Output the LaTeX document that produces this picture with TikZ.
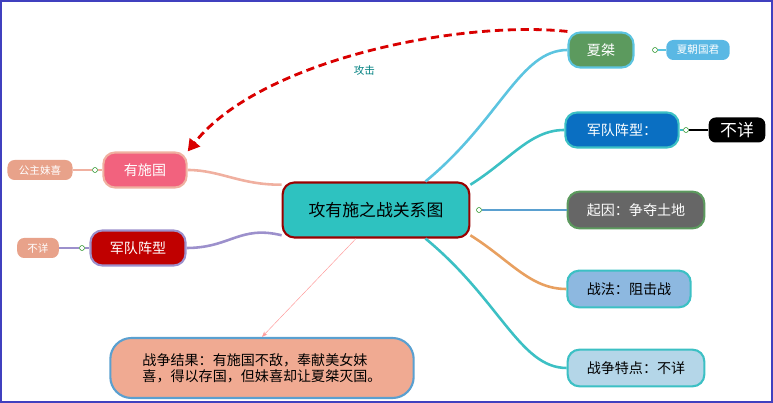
\documentclass[tikz,border=0pt]{standalone}
\usepackage{fontspec}
\setmainfont{Noto Sans CJK SC}
\usetikzlibrary{arrows.meta}
\definecolor{mainfill}{HTML}{2EC2C0}
\definecolor{xjfill}{HTML}{5C9A5E}
\definecolor{tagblue}{HTML}{5AB8E4}
\definecolor{jdfill}{HTML}{0A6FC2}
\definecolor{grayfill}{HTML}{666666}
\definecolor{zffill}{HTML}{8DB8E0}
\definecolor{tdfill}{HTML}{B4D6E8}
\definecolor{ysfill}{HTML}{F2627E}
\definecolor{salmon}{HTML}{E8A28A}
\definecolor{resfill}{HTML}{F0AA92}
\definecolor{darkred}{HTML}{C00000}
\definecolor{linecyan}{HTML}{5CC4E0}
\definecolor{lineteal}{HTML}{3CC0C4}
\definecolor{lineblue}{HTML}{5AA0D0}
\definecolor{lineorange}{HTML}{E8A060}
\definecolor{linepink}{HTML}{F0B0A0}
\definecolor{linepurple}{HTML}{9C90CC}
\tikzset{
  topic/.style={rectangle, rounded corners=10pt, line width=1.8pt, minimum height=1.05cm, text centered, font=\large},
  tag/.style={rectangle, rounded corners=6pt, minimum height=0.6cm, text centered, font=\small, text=white},
  knob/.style={circle, draw=green!50!black, fill=white, inner sep=1.5pt},
  branch/.style={line width=2.2pt}
}
\begin{document}
\begin{tikzpicture}[x=0.03cm, y=-0.03cm]
  \useasboundingbox (0,0) rectangle (773,403);
  \draw[blue!50!gray, line width=1.5pt] (1,1) rectangle (772,402);

  \node [topic, fill=mainfill, draw=red!60!black, minimum width=5.6cm, minimum height=1.65cm, font=\Large] at (376,210) (main) {攻有施之战关系图};
  \node [knob] at (479,210) (k0) {};

  \node [topic, fill=xjfill, draw=linecyan, text=white, minimum width=1.95cm] at (601,50) (xj) {夏桀};
  \node [knob] at (655,50) (k1) {};
  \node [tag, fill=tagblue, minimum width=1.9cm] at (698,50) (xjl) {夏朝国君};

  \node [topic, fill=jdfill, draw=lineteal, text=white, minimum width=3.4cm] at (622,130) (jd) {军队阵型：};
  \node [knob] at (686,130) (k2) {};
  \node [tag, fill=black, minimum width=1.7cm, minimum height=0.75cm, font=\Large] at (737,130) (jdl) {不详};

  \node [topic, fill=grayfill, draw=xjfill, text=white, minimum width=4.1cm, minimum height=1.1cm] at (636,210) (qy) {起因：争夺土地};
  \node [topic, fill=zffill, draw=lineteal, minimum width=3.7cm, minimum height=1.1cm] at (629,289) (zf) {战法：阻击战};
  \node [topic, fill=tdfill, draw=lineteal, minimum width=4.1cm, minimum height=1.1cm] at (636,368) (td) {战争特点：不详};

  \node [topic, fill=ysfill, draw=linepink, text=white, minimum width=2.5cm] at (145,170) (ys) {有施国};
  \node [knob] at (95,170) (k3) {};
  \node [tag, fill=salmon, minimum width=1.95cm] at (40,170) (ysl) {公主妹喜};

  \node [topic, fill=darkred, draw=linepurple, text=white, minimum width=2.85cm] at (138,248) (jd2) {军队阵型};
  \node [knob] at (82,248) (k4) {};
  \node [tag, fill=salmon, minimum width=1.25cm] at (38,248) (jd2l) {不详};

  \node [topic, fill=resfill, draw=lineblue, rounded corners=18pt, minimum width=9.1cm, minimum height=1.8cm, align=left] at (262,368) (res) {战争结果：有施国不敌，奉献美女妹\\喜，得以存国，但妹喜却让夏桀灭国。};

  \draw [branch, linecyan] (main.30) .. controls (500,120) and (520,50) .. (xj.west);
  \draw [branch, lineteal] (main.15) .. controls (510,160) and (530,130) .. (jd.west);
  \draw [branch, lineblue] (k0) -- (qy.west);
  \draw [branch, lineorange] (main.-15) .. controls (510,260) and (530,289) .. (zf.west);
  \draw [branch, lineteal] (main.-30) .. controls (500,300) and (520,368) .. (td.west);
  \draw [branch, linepink] (main.165) .. controls (240,185) and (220,170) .. (ys.east);
  \draw [branch, linepurple] (main.195) .. controls (240,225) and (230,248) .. (jd2.east);
  \draw [line width=1pt, linepink] (k3) -- (ys.west);
  \draw [line width=1pt, linepink] (k3) -- (ysl.east);
  \draw [line width=1pt, linepurple] (k4) -- (jd2.west);
  \draw [line width=1pt, linepurple] (k4) -- (jd2l.east);
  \draw [line width=1pt, linecyan] (k1) -- (xjl.west);
  \draw [line width=1pt, lineteal] (k2) -- (jd.east);
  \draw [line width=1pt] (k2) -- (jdl.west);

  \draw [red!85!black, line width=2.4pt, dash pattern=on 7pt off 4pt, -{Triangle[length=10pt,width=11pt]}] (xj.north west) .. controls (460,20) and (260,60) .. node [pos=0.5, below=6pt, text=teal, font=\small] {攻击} (ys.north east);
  \draw [pink!80!red, -{Stealth}] (main.235) -- (res.north);
\end{tikzpicture}
\end{document}
